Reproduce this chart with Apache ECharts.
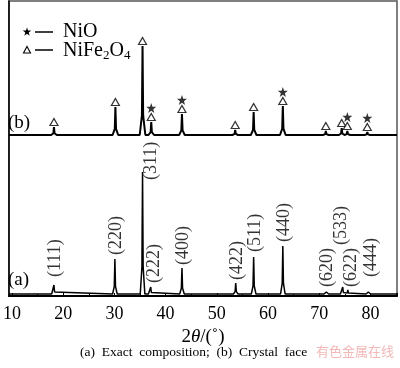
<!DOCTYPE html>
<html><head><meta charset="utf-8">
<script src="https://cdn.jsdelivr.net/npm/echarts@6/dist/echarts.min.js"></script>
<style>html,body{margin:0;padding:0;background:#fff}#c{width:400px;height:368px}</style>
</head><body><div id="c"></div>
<script>
// Peak positions (2θ, degrees) and heights (arbitrary units above each pattern's baseline)
const peaksA_x = [18.2, 30.1, 35.5, 37.1, 43.2, 53.7, 57.2, 62.9, 71.4, 74.6, 75.6, 79.6];
const peaksA_h = [9, 35, 122, 7, 26, 11, 37, 48, 2, 7, 4, 2];
const peaksB_x = [18.2, 30.2, 35.5, 37.2, 43.2, 53.6, 57.2, 62.9, 71.3, 74.4, 75.5, 79.4];
const peaksB_h = [8, 28, 89, 13, 21, 5, 23, 29, 4, 7, 4, 3];
const baseA = 2, baseB = 161;
// phase identification for pattern (b)
const nifePeaks = [18.2, 30.2, 35.5, 37.2, 43.2, 53.6, 57.2, 62.9, 71.3, 74.4, 75.5, 79.4];
const nioPeaks = [37.2, 43.2, 62.9, 75.5, 79.4];
// Miller indices for pattern (a), with label anchor (2θ, intensity)
const hkl = ['(111)', '(220)', '(311)', '(222)', '(400)', '(422)', '(511)', '(440)', '(620)', '(533)', '(622)', '(444)'];
const hklX = [18.5, 30.4, 37.3, 37.7, 43.5, 54.0, 57.5, 63.1, 71.5, 74.4, 76.2, 80.2];
const hklY = [19, 41, 116, 13, 31, 16, 44, 54, 9, 51, 9, 19];
const xTicks = [10, 20, 30, 40, 50, 60, 70, 80];
const xMin = 9.4, xMax = 85.2;

function profile(xs, hs, base, w) {
  const pts = [[xMin, base]];
  const arr = xs.map((x, i) => [x, hs[i]]).sort((a, b) => a[0] - b[0]);
  arr.forEach(([x, h]) => {
    pts.push([x - w, base], [x - 0.12, base + 0.22 * h], [x, base + h], [x + 0.12, base + 0.22 * h], [x + w, base]);
  });
  pts.push([xMax, base]);
  pts.sort((a, b) => a[0] - b[0]);
  return pts;
}
function topOf(x) { const i = peaksB_x.indexOf(x); return baseB + peaksB_h[i]; }
function starPts(cx, cy, r) {
  const p = [];
  for (let k = 0; k < 10; k++) {
    const a = -Math.PI / 2 + k * Math.PI / 5, rr = k % 2 ? r * 0.4 : r;
    p.push([cx + rr * Math.cos(a), cy + rr * Math.sin(a)]);
  }
  return p;
}

const serif = "'Liberation Serif','Times New Roman',serif";
const star = 'path://M0,-10 L2.35,-3.24 L9.51,-3.09 L3.8,1.24 L5.88,8.09 L0,4 L-5.88,8.09 L-3.8,1.24 L-9.51,-3.09 L-2.35,-3.24 Z';

const chart = echarts.init(document.getElementById('c'), null, {renderer: 'canvas'});
chart.setOption({
  animation: false,
  backgroundColor: '#fff',
  grid: {left: 5, right: 1, top: 1, bottom: 72, show: true, borderColor: '#555', borderWidth: 1.5, backgroundColor: 'transparent'},
  xAxis: {
    type: 'value', min: xMin, max: xMax, splitNumber: 8,
    axisLine: {show: true, onZero: false, lineStyle: {color: '#000', width: 2}},
    axisTick: {show: true, inside: true, length: 3, lineStyle: {color: '#000'}},
    minorTick: {show: true, splitNumber: 2, length: 2, lineStyle: {color: '#000'}},
    splitLine: {show: false},
    axisLabel: {margin: 9, color: '#000', fontFamily: serif, fontSize: 18,
      formatter: v => xTicks.indexOf(Math.round(v * 1000) / 1000) >= 0 ? String(v) : ''},
    name: '{n|2}{i|θ}{n|/(˚)}', nameLocation: 'middle', nameGap: 31,
    nameTextStyle: {rich: {n: {fontFamily: serif, fontSize: 19, color: '#000'}, i: {fontFamily: serif, fontSize: 19, fontStyle: 'italic', color: '#000'}}}
  },
  yAxis: {type: 'value', min: 0, max: 295, axisLabel: {show: false}, axisTick: {show: false}, splitLine: {show: false},
    axisLine: {show: true, lineStyle: {color: '#000', width: 1.5}}},
  series: [
    {type: 'line', name: 'b', data: profile(peaksB_x, peaksB_h, baseB, 0.55), symbol: 'none', lineStyle: {color: '#000', width: 2}, z: 3},
    {type: 'line', name: 'a', data: profile(peaksA_x, peaksA_h, baseA, 0.45), symbol: 'none', lineStyle: {color: '#000', width: 1.5}, z: 3},
    {type: 'scatter', name: 'NiFe2O4', data: nifePeaks.map(x => [x, topOf(x)]), symbol: 'triangle', symbolSize: [8, 7], symbolOffset: [0, -5],
      itemStyle: {color: '#fff', borderColor: '#000', borderWidth: 1.2}, z: 4},
    {type: 'scatter', name: 'NiO', data: nioPeaks.map(x => [x, topOf(x)]), symbol: star, symbolSize: 10, symbolOffset: [0, -14],
      itemStyle: {color: '#000'}, z: 4},
    {type: 'scatter', name: 'hkl', data: hkl.map((t, i) => ({name: t, value: [hklX[i], hklY[i]]})), symbol: 'circle', symbolSize: 0.1,
      itemStyle: {color: 'transparent'}, silent: true,
      label: {show: true, formatter: p => p.name, position: 'inside', rotate: 90, align: 'left', verticalAlign: 'middle',
        color: '#000', fontFamily: serif, fontSize: 18}, z: 5}
  ],
  graphic: [
    {type: 'text', left: 8, top: 114, style: {text: '(b)', font: '19px ' + serif, fill: '#000'}},
    {type: 'text', left: 8, top: 271, style: {text: '(a)', font: '19px ' + serif, fill: '#000'}},
    {type: 'polygon', shape: {points: starPts(27, 32, 4.5)}, style: {fill: '#000'}},
    {type: 'line', shape: {x1: 35, y1: 32, x2: 53, y2: 32}, style: {stroke: '#000', lineWidth: 1.5}},
    {type: 'text', x: 63, y: 32, style: {text: 'NiO', font: '20px ' + serif, fill: '#000', verticalAlign: 'middle'}},
    {type: 'polygon', shape: {points: [[27, 46.5], [30.5, 53], [23.5, 53]]}, style: {fill: '#fff', stroke: '#000', lineWidth: 1.1}},
    {type: 'line', shape: {x1: 35, y1: 50, x2: 53, y2: 50}, style: {stroke: '#000', lineWidth: 1.5}},
    {type: 'text', x: 63, y: 51, style: {text: '{n|NiFe}{s|2}{n|O}{s|4}', verticalAlign: 'middle',
      rich: {n: {fontFamily: serif, fontSize: 20, color: '#000'}, s: {fontFamily: serif, fontSize: 13, color: '#000', verticalAlign: 'bottom', padding: [9, 0, 0, 0]}}}},
    {type: 'text', left: 80, top: 345, style: {text: '(a)  Exact  composition;  (b)  Crystal  face', font: '13.5px ' + serif, fill: '#000'}},
    {type: 'text', right: 6, top: 345, style: {text: '有色金属在线', font: '13px "Noto Sans CJK SC", sans-serif', fill: '#f2b8b8'}}
  ]
});
</script></body></html>
